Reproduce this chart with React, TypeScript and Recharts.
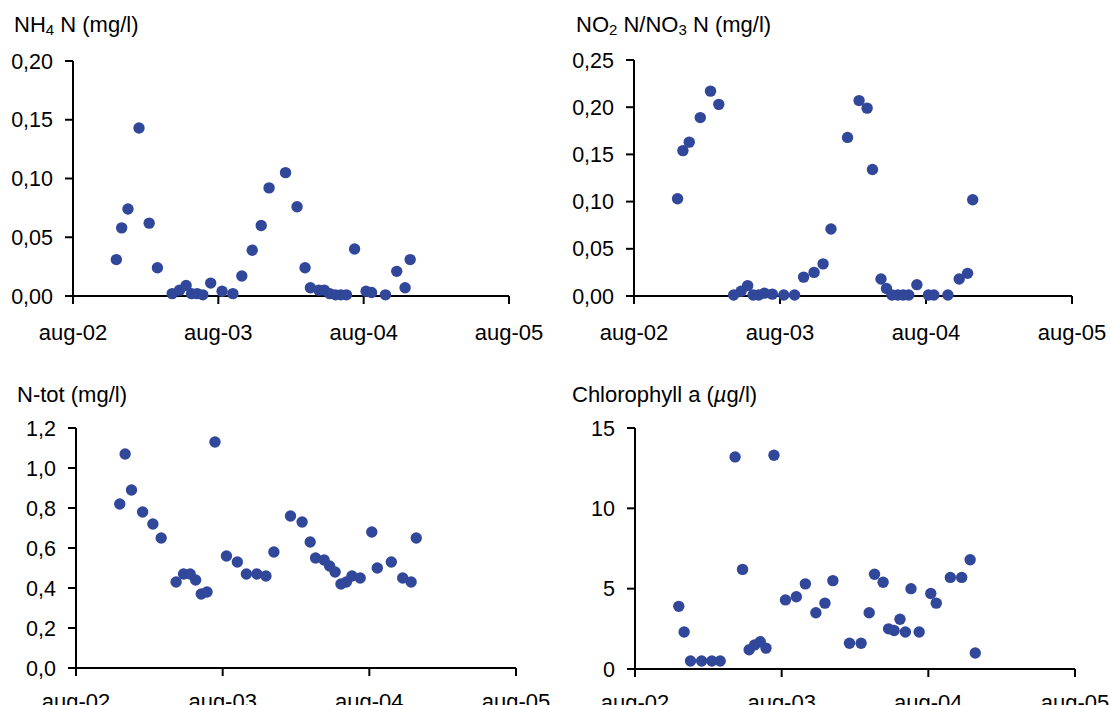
import React from 'react';
import { ScatterChart, Scatter, XAxis, YAxis } from 'recharts';

// months since aug-02 for each sampling date
const months = [
  3.58, 4.02, 4.54, 5.45, 6.29, 6.97, 8.19, 8.8, 9.34, 9.79, 10.25, 10.72,
  11.37, 12.31, 13.2, 13.94, 14.8, 15.54, 16.19, 17.55, 18.5, 19.16, 19.6, 20.3,
  20.75, 21.2, 21.68, 22.12, 22.58, 23.25, 24.2, 24.65, 25.8, 26.73, 27.42, 27.84,
];

const nh4 = [
  0.031, 0.058, 0.074, 0.143, 0.062, 0.024, 0.002, 0.005, 0.009, 0.002, 0.002, 0.001,
  0.011, 0.004, 0.002, 0.017, 0.039, 0.06, 0.092, 0.105, 0.076, 0.024, 0.007, 0.005,
  0.005, 0.002, 0.001, 0.001, 0.001, 0.04, 0.004, 0.003, 0.001, 0.021, 0.007, 0.031,
];

const no2no3 = [
  0.103, 0.154, 0.163, 0.189, 0.217, 0.203, 0.001, 0.005, 0.011, 0.001, 0.001, 0.003,
  0.002, 0.001, 0.001, 0.02, 0.025, 0.034, 0.071, 0.168, 0.207, 0.199, 0.134, 0.018,
  0.008, 0.001, 0.001, 0.001, 0.001, 0.012, 0.001, 0.001, 0.001, 0.018, 0.024, 0.102,
];

const ntot = [
  0.82, 1.07, 0.89, 0.78, 0.72, 0.65, 0.43, 0.47, 0.47, 0.44, 0.37, 0.38,
  1.13, 0.56, 0.53, 0.47, 0.47, 0.46, 0.58, 0.76, 0.73, 0.63, 0.55, 0.54,
  0.51, 0.48, 0.42, 0.43, 0.46, 0.45, 0.68, 0.5, 0.53, 0.45, 0.43, 0.65,
];

const chla = [
  3.9, 2.3, 0.5, 0.5, 0.5, 0.5, 13.2, 6.2, 1.2, 1.5, 1.7, 1.3,
  13.3, 4.3, 4.5, 5.3, 3.5, 4.1, 5.5, 1.6, 1.6, 3.5, 5.9, 5.4,
  2.5, 2.4, 3.1, 2.3, 5.0, 2.3, 4.7, 4.1, 5.7, 5.7, 6.8, 1.0,
];

const xTicks = [0, 12, 24, 36];
const xLabels = ['aug-02', 'aug-03', 'aug-04', 'aug-05'];

const FONT = '"Liberation Sans", Arial, sans-serif';
const DOT = '#30479a';

const toRows = (vals: number[]) => vals.map((v, i) => ({ x: months[i], y: v }));

const Dot = (props: any) => <circle cx={props.cx} cy={props.cy} r={5.7} fill={DOT} />;

interface PanelProps {
  left: number;
  top: number;
  height: number;
  margin: { top: number; right: number; left: number; bottom: number };
  yWidth: number;
  xTickMargin: number;
  values: number[];
  yMax: number;
  yTicks: number[];
  decimals: number;
  title: React.ReactNode;
  titleLeft: number;
  titleTop: number;
}

const Panel = (p: PanelProps) => {
  const axisStyle = { stroke: '#000', strokeWidth: 2 };
  return (
    <div style={{ position: 'absolute', left: p.left, top: p.top, width: 555, height: p.height }}>
      <div style={{ position: 'absolute', left: p.titleLeft, top: p.titleTop, fontFamily: FONT, fontSize: 22, lineHeight: '22px', whiteSpace: 'nowrap', color: '#000' }}>
        {p.title}
      </div>
      <ScatterChart width={555} height={p.height} margin={p.margin}>
        <XAxis
          type="number"
          dataKey="x"
          domain={[0, 36]}
          ticks={xTicks}
          tickFormatter={(v: number) => xLabels[xTicks.indexOf(v)]}
          axisLine={axisStyle}
          tickLine={axisStyle}
          tickSize={8}
          tickMargin={p.xTickMargin}
          tick={{ fill: '#000', fontSize: 22, fontFamily: FONT }}
          height={40}
          interval={0}
        />
        <YAxis
          type="number"
          dataKey="y"
          domain={[0, p.yMax]}
          ticks={p.yTicks}
          tickFormatter={(v: number) => v.toFixed(p.decimals).replace('.', ',')}
          axisLine={axisStyle}
          tickLine={axisStyle}
          tickSize={8}
          tickMargin={12}
          tick={{ fill: '#000', fontSize: 21.5, fontFamily: FONT }}
          width={p.yWidth}
          interval={0}
        />
        <Scatter data={toRows(p.values)} fill={DOT} shape={Dot} isAnimationActive={false} />
      </ScatterChart>
    </div>
  );
};

const sub = (s: string) => <span style={{ fontSize: 15, verticalAlign: -3 }}>{s}</span>;

export default function App() {
  return (
    <div style={{ position: 'absolute', left: 0, top: 0, width: 1110, height: 705, background: '#fff', overflow: 'hidden' }}>
      <Panel
        left={0} top={0} height={370}
        margin={{ top: 61, right: 46, left: 0, bottom: 34 }}
        yWidth={73} xTickMargin={20}
        values={nh4} yMax={0.2} yTicks={[0, 0.05, 0.1, 0.15, 0.2]} decimals={2}
        title={<>NH{sub('4')} N (mg/l)</>}
        titleLeft={14} titleTop={14}
      />
      <Panel
        left={555} top={0} height={370}
        margin={{ top: 60, right: 38, left: 0, bottom: 34 }}
        yWidth={79} xTickMargin={20}
        values={no2no3} yMax={0.25} yTicks={[0, 0.05, 0.1, 0.15, 0.2, 0.25]} decimals={2}
        title={<>NO{sub('2')} N/NO{sub('3')} N (mg/l)</>}
        titleLeft={21} titleTop={14}
      />
      <Panel
        left={0} top={370} height={335}
        margin={{ top: 58, right: 39, left: 0, bottom: -3 }}
        yWidth={76} xTickMargin={17}
        values={ntot} yMax={1.2} yTicks={[0, 0.2, 0.4, 0.6, 0.8, 1.0, 1.2]} decimals={1}
        title={<>N-tot (mg/l)</>}
        titleLeft={17} titleTop={14}
      />
      <Panel
        left={555} top={370} height={335}
        margin={{ top: 58, right: 35, left: 0, bottom: -4 }}
        yWidth={80} xTickMargin={17}
        values={chla} yMax={15} yTicks={[0, 5, 10, 15]} decimals={0}
        title={<>Chlorophyll a (<i>µ</i>g/l)</>}
        titleLeft={17} titleTop={14}
      />
    </div>
  );
}
